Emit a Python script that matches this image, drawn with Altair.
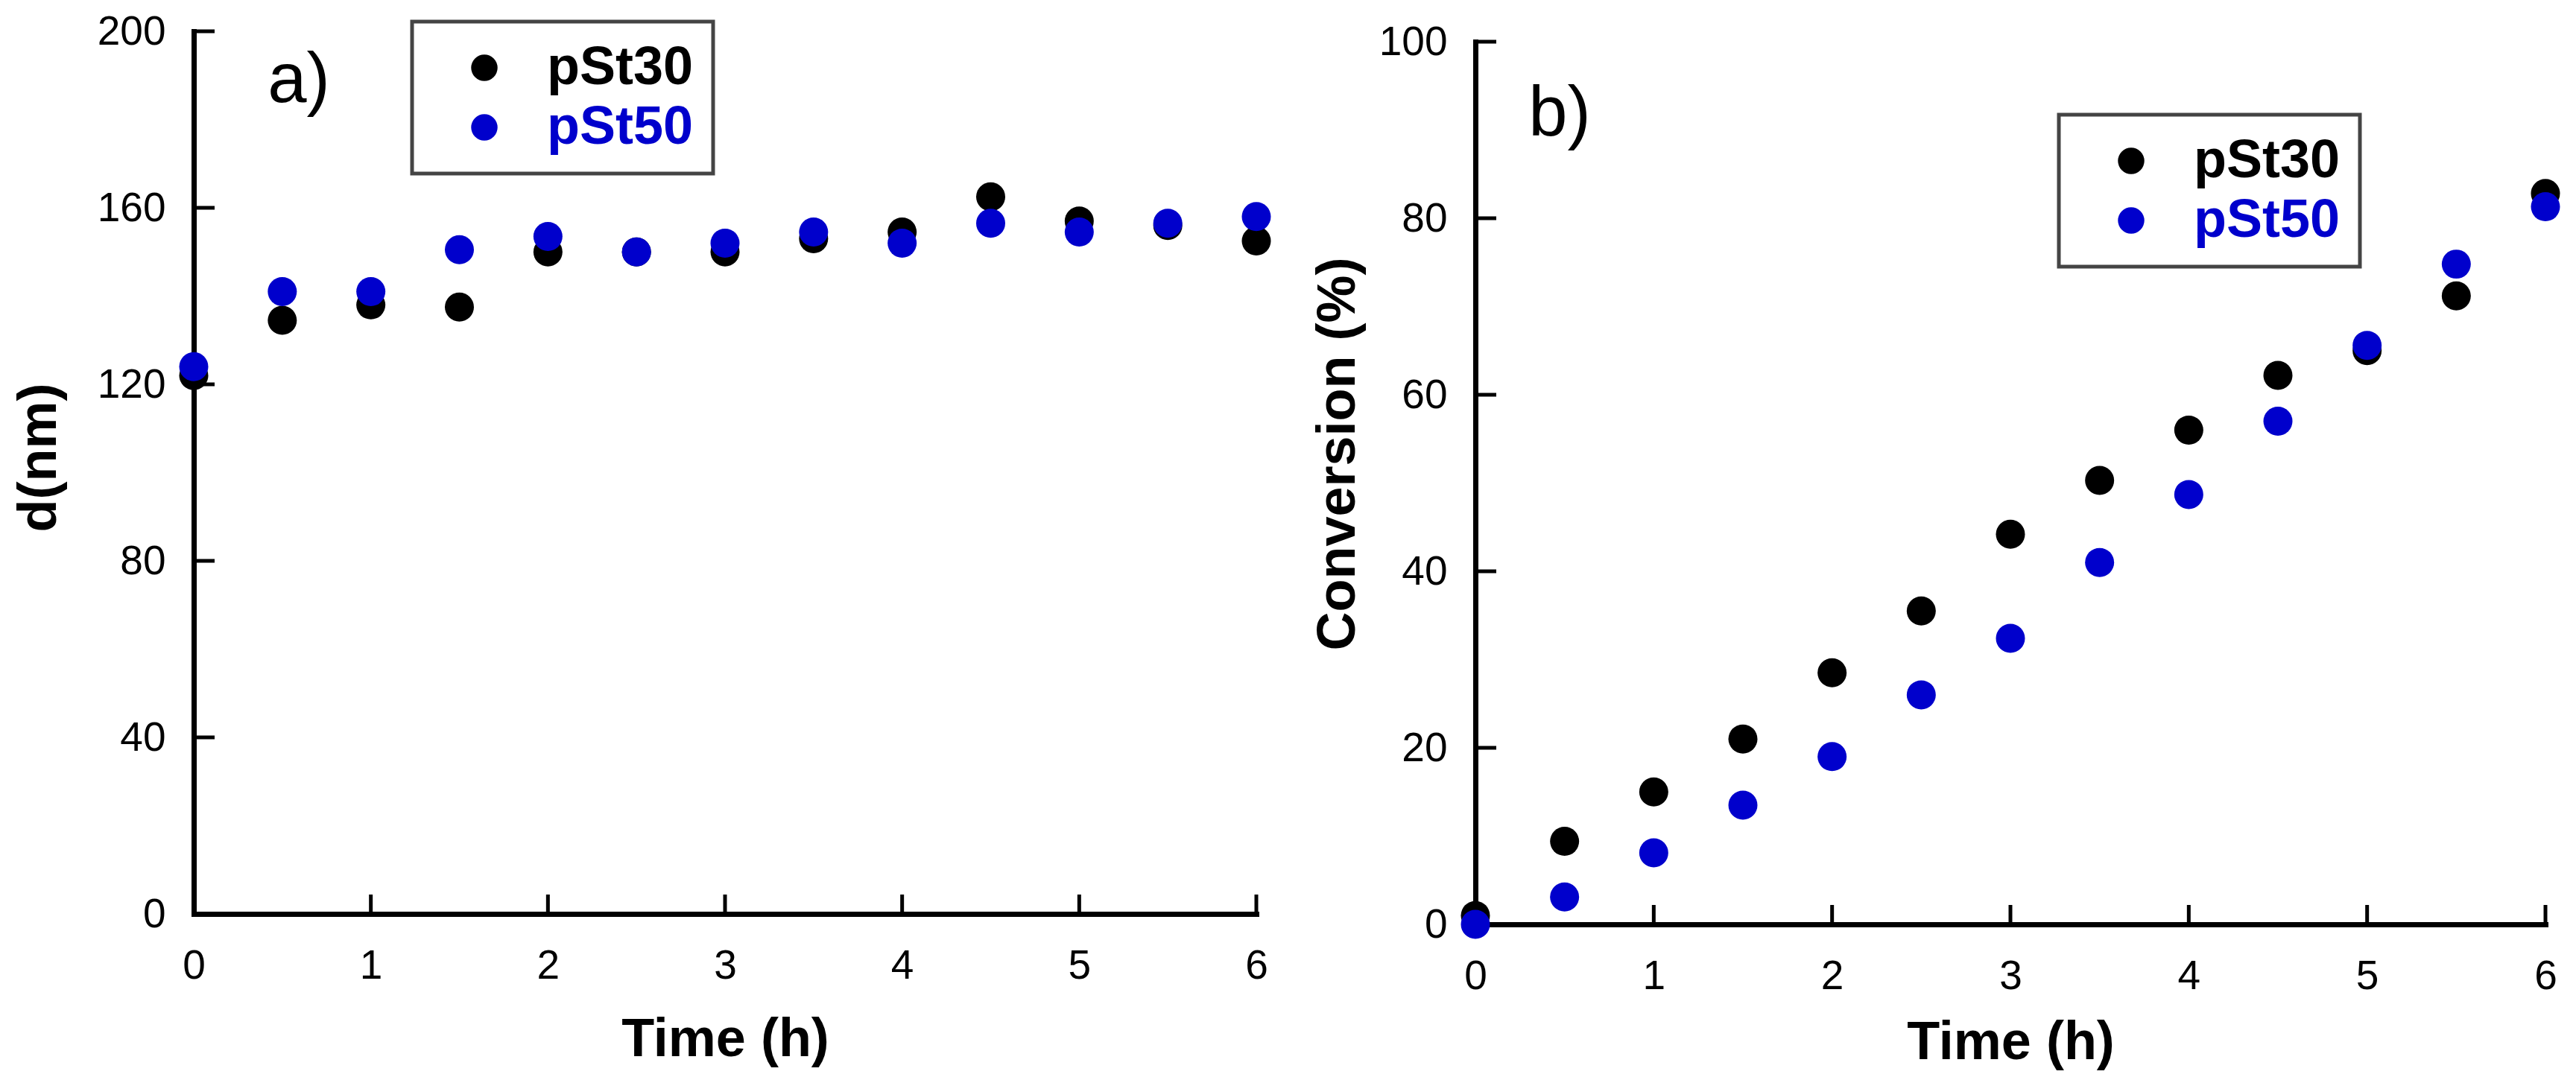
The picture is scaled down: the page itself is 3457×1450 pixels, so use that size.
import altair as alt
import pandas as pd

# ---------------- data ----------------
time_h = [0, 0.5, 1, 1.5, 2, 2.5, 3, 3.5, 4, 4.5, 5, 5.5, 6]
series_names = ["pSt30", "pSt50"]
series_colors = ["#000000", "#0000CC"]

d_pst30 = [122, 134.5, 138, 137.5, 150, 150, 150, 153, 154.5, 162.5, 157, 156, 152.5]
d_pst50 = [124, 141, 141, 150.5, 153.5, 150, 152, 154.5, 152, 156.5, 154.5, 156.5, 158]

conv_pst30 = [1, 9.4, 15, 21, 28.5, 35.5, 44.2, 50.3, 56, 62.2, 65, 71.2, 82.8]
conv_pst50 = [0, 3.1, 8.1, 13.5, 19, 26, 32.4, 41, 48.7, 57, 65.6, 74.8, 81.3]

x_ticks = [0, 1, 2, 3, 4, 5, 6]
d_ticks = [0, 40, 80, 120, 160, 200]
conv_ticks = [0, 20, 40, 60, 80, 100]

panel_tags = ["a)", "b)"]
tag_t = [0.593, 0.472]
tag_v = [184, 89.4]

FONT = "Liberation Sans, Arial, Helvetica, sans-serif"


def panel(v30, v50, ytitle, ydomain, yticks, W, H, tag, tt, tv,
          legx, legy, title_x, title_y, xtitle_y):
    df = pd.DataFrame({
        "t": time_h + time_h,
        "v": v30 + v50,
        "s": [series_names[0]] * len(time_h) + [series_names[1]] * len(time_h),
    })
    xs = alt.Scale(domain=[0, 6], nice=False, zero=False)
    ys = alt.Scale(domain=ydomain, nice=False, zero=False)
    common = dict(
        ticks=False, tickSize=0, grid=False,
        domainWidth=7, domainColor="black", domainCap="square",
        labelFont=FONT, labelFontSize=55, labelColor="black",
        labelFlush=False, labelOverlap=False, labelBound=False,
        titleFont=FONT, titleFontSize=72, titleFontWeight="bold", titleColor="black",
        titleBaseline="alphabetic",
    )
    xax = alt.Axis(values=x_ticks, title="Time (h)", labelPadding=43,
                   titleY=xtitle_y, **common)
    yax = alt.Axis(values=yticks, title=ytitle, labelPadding=38,
                   titleX=title_x, titleY=title_y, titleAlign="center", **common)

    leg = alt.Legend(
        orient="none", legendX=legx, legendY=legy, title=None,
        padding=26, fillColor="white",
        symbolType="circle", symbolSize=1257, symbolStrokeWidth=0,
        symbolOffset=35, labelOffset=48,
        labelFont=FONT, labelFontSize=72, labelFontWeight="bold", labelLimit=500,
        labelColor={"expr": "datum.label == 'pSt50' ? '#0000CC' : '#000000'"},
    )

    pts = alt.Chart(df).mark_circle(size=1520, opacity=1).encode(
        x=alt.X("t:Q", scale=xs, axis=xax),
        y=alt.Y("v:Q", scale=ys, axis=yax),
        color=alt.Color("s:N", scale=alt.Scale(domain=series_names, range=series_colors),
                        legend=leg),
    )
    xt = alt.Chart(pd.DataFrame({"t": x_ticks})).mark_rule(color="black", strokeWidth=5).encode(
        x=alt.X("t:Q", scale=xs, axis=xax),
        y=alt.value(H), y2=alt.value(H - 26),
    )
    yt = alt.Chart(pd.DataFrame({"v": yticks})).mark_rule(color="black", strokeWidth=5).encode(
        y=alt.Y("v:Q", scale=ys, axis=yax),
        x=alt.value(0), x2=alt.value(28),
    )
    txt = alt.Chart(pd.DataFrame({"t": [tt], "v": [tv], "lab": [tag]})).mark_text(
        font=FONT, fontSize=94, color="black", align="center", baseline="alphabetic"
    ).encode(
        x=alt.X("t:Q", scale=xs, axis=xax),
        y=alt.Y("v:Q", scale=ys, axis=yax),
        text="lab:N",
    )
    return alt.layer(xt, yt, pts, txt).properties(width=W, height=H)


left = panel(d_pst30, d_pst50, "d(nm)", [0, 200], d_ticks, 1426, 1185,
             panel_tags[0], tag_t[0], tag_v[0],
             legx=293, legy=-13, title_x=-186, title_y=572, xtitle_y=190)
# legend of panel b) is placed relative to its column (14 px strip above the plot)
right = panel(conv_pst30, conv_pst50, "Conversion (%)", [0, 100], conv_ticks, 1436, 1185,
              panel_tags[1], tag_t[1], tag_v[1],
              legx=783, legy=112, title_x=-163, title_y=553, xtitle_y=180)

# small blank strip that lowers panel b) a little, as in the reference
spacer = alt.Chart(pd.DataFrame({"k": [0]})).mark_point(opacity=0).encode(
    x=alt.value(0), y=alt.value(0)
).properties(width=1436, height=14)
right_col = alt.vconcat(spacer, right, spacing=0, bounds="flush")

chart = alt.hconcat(left, right_col, spacing=53).resolve_legend(color="independent").resolve_scale(
    color="independent"
).properties(
    padding={"left": 8, "top": 7, "right": 5, "bottom": 5},
    background="white",
).configure_view(stroke=None).configure_legend(
    strokeColor="#444444", strokeWidth=5, rowPadding=8
)

chart.save("out.html", embed_options={"renderer": "svg", "actions": False})
